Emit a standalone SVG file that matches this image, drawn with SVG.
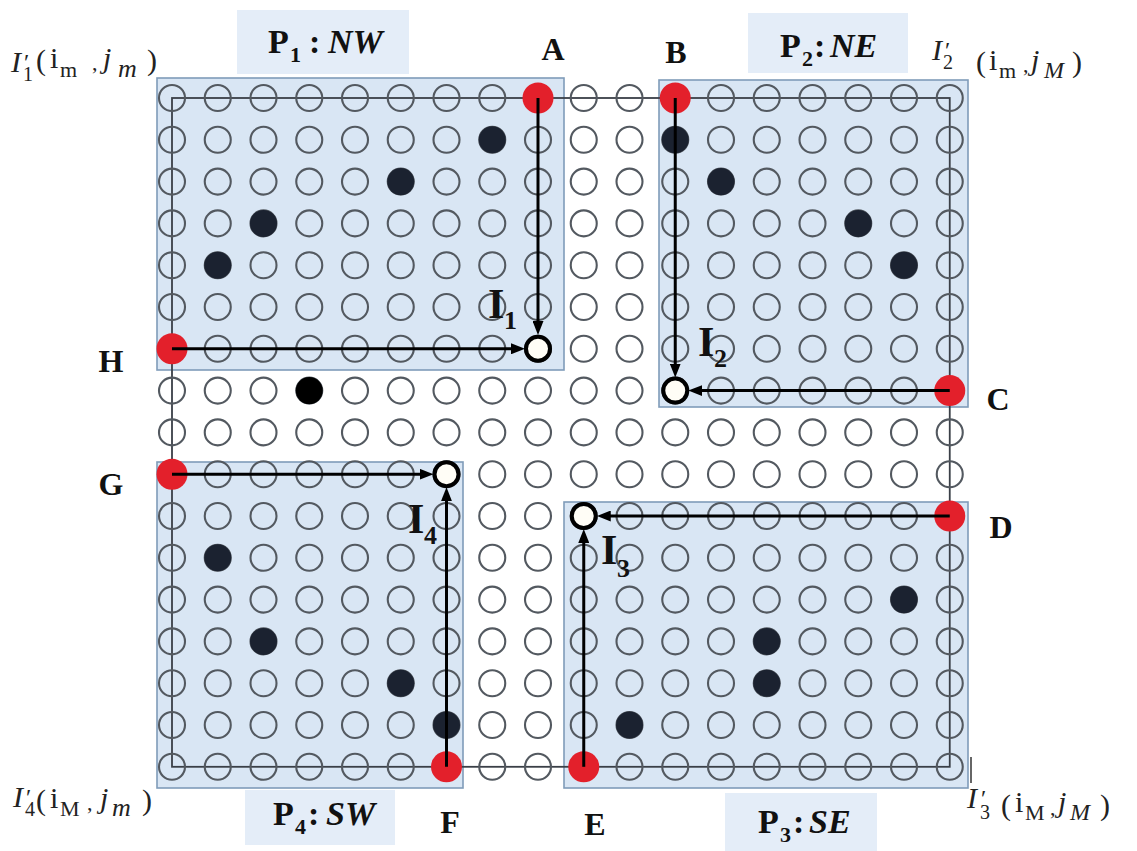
<svg xmlns="http://www.w3.org/2000/svg" xmlns:xlink="http://www.w3.org/1999/xlink" width="1137" height="851" viewBox="0 0 1137 851">
<style>
.region{fill:#d9e6f4;stroke:#7f9cb9;stroke-width:1.6}
.lbox{fill:#e4edf8}
.cell{fill:none;stroke:#535960;stroke-width:2.1}
.dot{fill:#1b2230}
.red{fill:#e3202b}
.inter{fill:#fffdf6;stroke:#000;stroke-width:4}
.arrow{stroke:#000;stroke-width:3;fill:none;marker-end:url(#ah)}
.frame{fill:none;stroke:#3a3f47;stroke-width:1.8}
.lt{font-family:"Liberation Serif",serif;font-weight:bold;font-size:32px;fill:#111;text-anchor:middle}
.pl{font-family:"Liberation Serif",serif;font-weight:bold;font-size:34px;fill:#111}
.il{font-family:"Liberation Serif",serif;font-weight:bold;font-size:42px;fill:#111}
.math{font-family:"Liberation Serif",serif;font-size:30px;fill:#222}
</style>
<defs>
<marker id="ah" markerUnits="userSpaceOnUse" markerWidth="14" markerHeight="11" refX="7" refY="5.5" orient="auto">
<path d="M0,0 L14,5.5 L0,11 z" fill="#000"/>
</marker>
<g id="row">
<circle class="cell" cx="172" cy="0" r="13"/><circle class="cell" cx="217.75" cy="0" r="13"/><circle class="cell" cx="263.5" cy="0" r="13"/><circle class="cell" cx="309.25" cy="0" r="13"/><circle class="cell" cx="355" cy="0" r="13"/><circle class="cell" cx="400.75" cy="0" r="13"/><circle class="cell" cx="446.5" cy="0" r="13"/><circle class="cell" cx="492.25" cy="0" r="13"/><circle class="cell" cx="538" cy="0" r="13"/><circle class="cell" cx="583.75" cy="0" r="13"/><circle class="cell" cx="629.5" cy="0" r="13"/><circle class="cell" cx="675.25" cy="0" r="13"/><circle class="cell" cx="721" cy="0" r="13"/><circle class="cell" cx="766.75" cy="0" r="13"/><circle class="cell" cx="812.5" cy="0" r="13"/><circle class="cell" cx="858.25" cy="0" r="13"/><circle class="cell" cx="904" cy="0" r="13"/><circle class="cell" cx="949.75" cy="0" r="13"/>
</g>
</defs>
<rect width="1137" height="851" fill="#fff"/>

<g id="P1">
<rect class="lbox" x="237" y="10" width="172" height="64"/>
<rect class="region" x="157" y="78" width="407" height="292"/>
<text class="pl" y="53"><tspan x="268">P</tspan><tspan x="290" y="62" font-size="22">1</tspan><tspan x="309" y="53">:</tspan><tspan x="328" y="53" font-style="italic">NW</tspan></text>
</g>
<g id="P2">
<rect class="lbox" x="748" y="13" width="160" height="60"/>
<rect class="region" x="659" y="80" width="309" height="327"/>
<text class="pl" y="57"><tspan x="780">P</tspan><tspan x="802" y="66" font-size="22">2</tspan><tspan x="814" y="57">:</tspan><tspan x="830" y="57" font-style="italic">NE</tspan></text>
</g>
<g id="P3">
<rect class="lbox" x="725" y="793" width="152" height="58"/>
<rect class="region" x="564" y="502" width="404" height="286"/>
<text class="pl" y="833"><tspan x="758">P</tspan><tspan x="780" y="842" font-size="22">3</tspan><tspan x="793" y="833">:</tspan><tspan x="809" y="833" font-style="italic">SE</tspan></text>
</g>
<g id="P4">
<rect class="lbox" x="245" y="790" width="150" height="55"/>
<rect class="region" x="157" y="462" width="306" height="326"/>
<text class="pl" y="825"><tspan x="273">P</tspan><tspan x="295" y="834" font-size="22">4</tspan><tspan x="308" y="825">:</tspan><tspan x="326" y="825" font-style="italic">SW</tspan></text>
</g>

<g id="grid">
<rect class="frame" x="172" y="98" width="777.75" height="668.8"/>
<use xlink:href="#row" y="98"/><use xlink:href="#row" y="139.8"/><use xlink:href="#row" y="181.6"/><use xlink:href="#row" y="223.4"/><use xlink:href="#row" y="265.2"/><use xlink:href="#row" y="307"/><use xlink:href="#row" y="348.8"/><use xlink:href="#row" y="390.6"/><use xlink:href="#row" y="432.4"/><use xlink:href="#row" y="474.2"/><use xlink:href="#row" y="516"/><use xlink:href="#row" y="557.8"/><use xlink:href="#row" y="599.6"/><use xlink:href="#row" y="641.4"/><use xlink:href="#row" y="683.2"/><use xlink:href="#row" y="725"/><use xlink:href="#row" y="766.8"/>
<line x1="971" y1="757" x2="971" y2="783" stroke="#333" stroke-width="1.5"/>
</g>

<g id="datapoints">
<circle class="dot" cx="492.25" cy="139.8" r="13.5"/>
<circle class="dot" cx="400.75" cy="181.6" r="13.5"/>
<circle class="dot" cx="263.5" cy="223.4" r="13.5"/>
<circle class="dot" cx="217.75" cy="265.2" r="13.5"/>
<circle cx="309.25" cy="390.6" r="13.5" fill="#000"/>
<circle class="dot" cx="675.25" cy="139.8" r="13.5"/>
<circle class="dot" cx="721" cy="181.6" r="13.5"/>
<circle class="dot" cx="858.25" cy="223.4" r="13.5"/>
<circle class="dot" cx="904" cy="265.2" r="13.5"/>
<circle class="dot" cx="217.75" cy="557.8" r="13.5"/>
<circle class="dot" cx="263.5" cy="641.4" r="13.5"/>
<circle class="dot" cx="400.75" cy="683.2" r="13.5"/>
<circle class="dot" cx="446.5" cy="725" r="13.5"/>
<circle class="dot" cx="904" cy="599.6" r="13.5"/>
<circle class="dot" cx="766.75" cy="641.4" r="13.5"/>
<circle class="dot" cx="766.75" cy="683.2" r="13.5"/>
<circle class="dot" cx="629.5" cy="725" r="13.5"/>
</g>

<g id="A"><circle class="red" cx="538" cy="98" r="15.5"/><text class="lt" x="553" y="60">A</text></g>
<g id="B"><circle class="red" cx="675.25" cy="98" r="15.5"/><text class="lt" x="676" y="63">B</text></g>
<g id="C"><circle class="red" cx="949.75" cy="390.6" r="15.5"/><text class="lt" x="998" y="410">C</text></g>
<g id="D"><circle class="red" cx="949.75" cy="516" r="15.5"/><text class="lt" x="1001" y="538">D</text></g>
<g id="E"><circle class="red" cx="583.75" cy="766.8" r="15.5"/><text class="lt" x="595" y="835">E</text></g>
<g id="F"><circle class="red" cx="446.5" cy="766.8" r="15.5"/><text class="lt" x="450" y="833">F</text></g>
<g id="G"><circle class="red" cx="172" cy="474.2" r="15.5"/><text class="lt" x="111" y="495">G</text></g>
<g id="H"><circle class="red" cx="172" cy="348.8" r="15.5"/><text class="lt" x="111" y="372">H</text></g>

<g id="connectors">
<line class="arrow" x1="538" y1="98" x2="538" y2="328"/>
<line class="arrow" x1="172" y1="348.8" x2="518" y2="348.8"/>
<line class="arrow" x1="675.25" y1="98" x2="675.25" y2="370.6"/>
<line class="arrow" x1="949.75" y1="390.6" x2="695.25" y2="390.6"/>
<line class="arrow" x1="949.75" y1="516" x2="603.75" y2="516"/>
<line class="arrow" x1="583.75" y1="766.8" x2="583.75" y2="536"/>
<line class="arrow" x1="172" y1="474.2" x2="426.5" y2="474.2"/>
<line class="arrow" x1="446.5" y1="766.8" x2="446.5" y2="494.2"/>
</g>

<g id="I1"><circle class="inter" cx="538" cy="348.8" r="12"/><text class="il" y="318"><tspan x="488">I</tspan><tspan x="504" y="329" font-size="26">1</tspan></text></g>
<g id="I2"><circle class="inter" cx="675.25" cy="390.6" r="12"/><text class="il" y="356"><tspan x="698">I</tspan><tspan x="714" y="367" font-size="26">2</tspan></text></g>
<g id="I3"><circle class="inter" cx="583.75" cy="516" r="12"/><text class="il" y="564"><tspan x="601">I</tspan><tspan x="617" y="577" font-size="26">3</tspan></text></g>
<g id="I4"><circle class="inter" cx="446.5" cy="474.2" r="12"/><text class="il" y="533"><tspan x="408">I</tspan><tspan x="424" y="544" font-size="26">4</tspan></text></g>

<g id="corner1">
<text class="math" y="72"><tspan x="11" font-style="italic">I</tspan><tspan x="24" y="70" font-size="24">′</tspan><tspan x="23" y="81" font-size="20">1</tspan><tspan x="36" y="70">(</tspan><tspan x="50" y="68">i</tspan><tspan x="60" y="77" font-size="22">m</tspan><tspan x="92" y="70" font-size="22">,</tspan><tspan x="103" y="68" font-style="italic">j</tspan><tspan x="118" y="77" font-size="26" font-style="italic">m</tspan><tspan x="147" y="70">)</tspan></text>
</g>
<g id="corner2">
<text class="math" y="60"><tspan x="932" font-style="italic">I</tspan><tspan x="945" y="58" font-size="24">′</tspan><tspan x="943" y="69" font-size="20">2</tspan><tspan x="976" y="72">(</tspan><tspan x="989" y="70">i</tspan><tspan x="999" y="78" font-size="22">m</tspan><tspan x="1023" y="72" font-size="22">,</tspan><tspan x="1031" y="70" font-style="italic">j</tspan><tspan x="1044" y="78" font-size="24" font-style="italic">M</tspan><tspan x="1072" y="72">)</tspan></text>
</g>
<g id="corner3">
<text class="math" y="808"><tspan x="967" font-style="italic">I</tspan><tspan x="981" y="806" font-size="24">′</tspan><tspan x="980" y="819" font-size="20">3</tspan><tspan x="1001" y="815">(</tspan><tspan x="1015" y="812">i</tspan><tspan x="1025" y="820" font-size="22">M</tspan><tspan x="1050" y="815" font-size="22">,</tspan><tspan x="1058" y="812" font-style="italic">j</tspan><tspan x="1070" y="820" font-size="24" font-style="italic">M</tspan><tspan x="1100" y="815">)</tspan></text>
</g>
<g id="corner4">
<text class="math" y="807"><tspan x="13" font-style="italic">I</tspan><tspan x="26" y="805" font-size="24">′</tspan><tspan x="25" y="816" font-size="20">4</tspan><tspan x="36" y="810">(</tspan><tspan x="50" y="808">i</tspan><tspan x="60" y="816" font-size="22">M</tspan><tspan x="87" y="810" font-size="22">,</tspan><tspan x="100" y="808" font-style="italic">j</tspan><tspan x="112" y="816" font-size="26" font-style="italic">m</tspan><tspan x="142" y="810">)</tspan></text>
</g>
</svg>
